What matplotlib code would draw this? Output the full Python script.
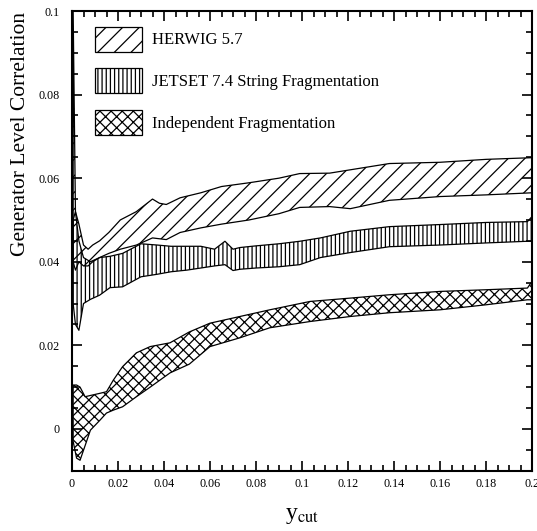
import matplotlib
matplotlib.use("Agg")
import matplotlib.pyplot as plt
from matplotlib.ticker import MultipleLocator, FormatStrFormatter

plt.rcParams['font.family'] = ['Liberation Serif', 'DejaVu Serif']
plt.rcParams['mathtext.fontset'] = 'stix'
plt.rcParams['hatch.linewidth'] = 0.9

# HERWIG 5.7 band
herwig_x = [0.0005, 0.0015, 0.003, 0.005, 0.007, 0.009, 0.012, 0.016, 0.021, 0.028, 0.035, 0.038,
            0.041, 0.047, 0.056, 0.065, 0.077, 0.090, 0.099, 0.112, 0.121, 0.138, 0.160, 0.180, 0.200]
herwig_hi = [0.100, 0.052, 0.049, 0.044, 0.043, 0.044, 0.045, 0.047, 0.050, 0.052, 0.055, 0.054,
             0.0537, 0.0553, 0.0565, 0.058, 0.0589, 0.060, 0.0611, 0.0612, 0.062, 0.0635, 0.0638, 0.0645, 0.0649]
herwig_lo = [0.040, 0.038, 0.040, 0.039, 0.039, 0.040, 0.041, 0.042, 0.043, 0.044, 0.0457, 0.0455,
             0.0453, 0.047, 0.0481, 0.049, 0.050, 0.0515, 0.053, 0.0532, 0.0527, 0.0547, 0.0556, 0.056, 0.0565]

# JETSET 7.4 string fragmentation band
jetset_x = [0.0005, 0.0015, 0.003, 0.005, 0.008, 0.012, 0.0165, 0.022, 0.030, 0.037, 0.043, 0.050, 0.056,
            0.062, 0.0665, 0.070, 0.073, 0.080, 0.090, 0.099, 0.108, 0.121, 0.138, 0.160, 0.180, 0.198, 0.200]
jetset_hi = [0.050, 0.052, 0.045, 0.041, 0.040, 0.041, 0.0413, 0.042, 0.0443, 0.044, 0.0437, 0.0437, 0.0437,
             0.043, 0.0449, 0.043, 0.0434, 0.0438, 0.0443, 0.0449, 0.0457, 0.0473, 0.0484, 0.0489, 0.0494, 0.0496, 0.0508]
jetset_lo = [0.030, 0.025, 0.0236, 0.030, 0.031, 0.032, 0.0338, 0.034, 0.0364, 0.037, 0.0376, 0.038, 0.0385,
             0.039, 0.0393, 0.0379, 0.0382, 0.0385, 0.0388, 0.0393, 0.041, 0.0422, 0.0436, 0.044, 0.0445, 0.0449, 0.0449]

# independent fragmentation band
indep_x = [0.0005, 0.002, 0.0035, 0.0057, 0.008, 0.012, 0.015, 0.018, 0.022, 0.028, 0.034, 0.0426,
           0.051, 0.060, 0.073, 0.086, 0.1035, 0.121, 0.138, 0.160, 0.180, 0.198, 0.200]
indep_hi = [0.0105, 0.0105, 0.0100, 0.0077, 0.0080, 0.0085, 0.0089, 0.0117, 0.0149, 0.0182, 0.0197, 0.0206,
            0.0232, 0.0253, 0.0269, 0.0285, 0.0305, 0.0313, 0.0321, 0.0329, 0.0333, 0.0337, 0.0353]
indep_lo = [-0.003, -0.007, -0.0075, -0.004, -0.0003, 0.002, 0.0038, 0.0045, 0.0053, 0.0077, 0.010, 0.0134,
            0.0155, 0.0197, 0.0218, 0.0242, 0.0257, 0.0269, 0.0278, 0.0285, 0.0297, 0.0309, 0.0309]

labels = ['HERWIG 5.7', 'JETSET 7.4 String Fragmentation', 'Independent Fragmentation']

fig = plt.figure(figsize=(5.37, 5.31), dpi=100)
ax = fig.add_axes([72/537, 1 - 470.7/531, 460/537, 459.7/531])

ax.fill_between(herwig_x, herwig_lo, herwig_hi, facecolor='none', edgecolor='black',
                hatch='//', linewidth=0.9, label=labels[0])
ax.fill_between(jetset_x, jetset_lo, jetset_hi, facecolor='none', edgecolor='black',
                hatch='||||', linewidth=0.9, label=labels[1])
ax.fill_between(indep_x, indep_lo, indep_hi, facecolor='none', edgecolor='black',
                hatch='xxx', linewidth=0.9, label=labels[2])

ax.set_xlim(0, 0.2)
ax.set_ylim(-0.01, 0.1)

ax.xaxis.set_major_locator(MultipleLocator(0.02))
ax.xaxis.set_minor_locator(MultipleLocator(0.005))
ax.yaxis.set_major_locator(MultipleLocator(0.02))
ax.yaxis.set_minor_locator(MultipleLocator(0.005))
ax.xaxis.set_major_formatter(FormatStrFormatter('%g'))
ax.yaxis.set_major_formatter(FormatStrFormatter('%g'))

ax.tick_params(which='both', direction='in', top=True, right=True, width=1.2)
ax.tick_params(which='major', length=7)
ax.tick_params(which='minor', length=4)
ax.tick_params(axis='x', labelsize=8.7, pad=5)
ax.tick_params(axis='y', labelsize=8.7, pad=9)
for s in ax.spines.values():
    s.set_linewidth(1.5)

ax.set_ylabel('Generator Level Correlation', fontsize=15.5)
ax.yaxis.set_label_coords(-0.091, 0.733)
ax.set_xlabel(r'y$_{\mathrm{cut}}$', fontsize=17)
ax.xaxis.set_label_coords(0.5, -0.075)

ax.legend(loc='upper left', bbox_to_anchor=(0.05, 0.966), frameon=False, fontsize=12,
          handlelength=2.8, handleheight=1.93, labelspacing=1.0, handletextpad=0.65,
          borderpad=0, borderaxespad=0)

fig.savefig('out.png', dpi=100)
